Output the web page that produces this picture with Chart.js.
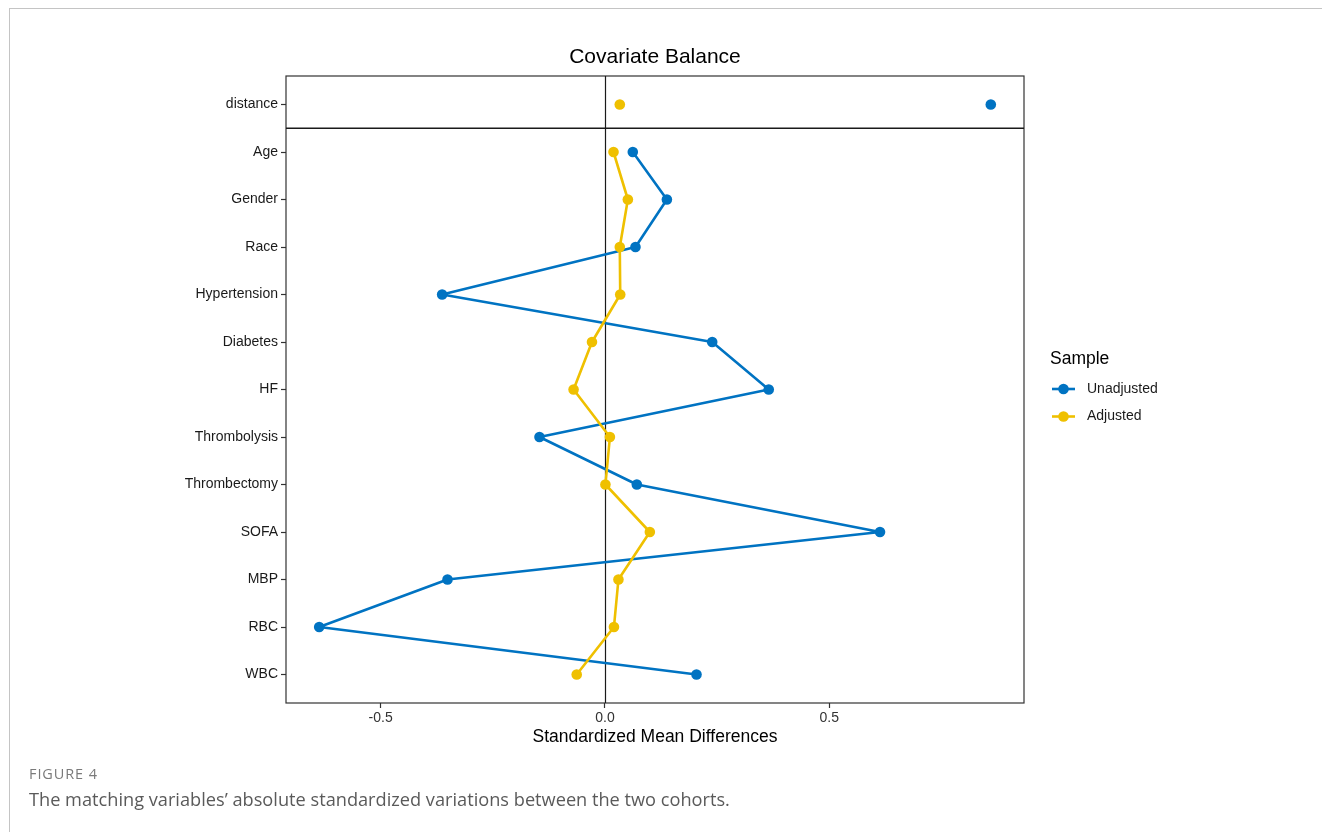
<!DOCTYPE html>
<html>
<head>
<meta charset="utf-8">
<title>Covariate Balance</title>
<script src="https://cdn.jsdelivr.net/npm/chart.js@4.4.1/dist/chart.umd.min.js"></script>
<style>
  html, body { margin: 0; padding: 0; background: #ffffff; width: 1322px; height: 832px; overflow: hidden; }
  #frame { position: absolute; left: 9px; top: 8px; width: 1400px; height: 900px; border: 1px solid #c4c4c4; box-sizing: border-box; }
  #wrap { position: absolute; left: 0; top: 0; width: 1322px; height: 832px; }
  .fig-label { position: absolute; left: 29px; top: 764px; font-family: "Open Sans", sans-serif; font-size: 14.5px; color: #7a7a7a; letter-spacing: 0.9px; }
  .fig-caption { position: absolute; left: 29px; top: 787px; font-family: "Open Sans", sans-serif; font-size: 18.2px; color: #5a5a5a; }
</style>
</head>
<body>
<div id="frame"></div>
<div id="wrap"><canvas id="chart" width="1322" height="832"></canvas></div>
<div class="fig-label">FIGURE 4</div>
<div class="fig-caption">The matching variables’ absolute standardized variations between the two cohorts.</div>
<script>
// Covariates, top to bottom
const covariates = ['distance', 'Age', 'Gender', 'Race', 'Hypertension', 'Diabetes', 'HF',
  'Thrombolysis', 'Thrombectomy', 'SOFA', 'MBP', 'RBC', 'WBC'];

// Standardized mean differences per covariate
const unadjusted = [0.860, 0.062, 0.138, 0.068, -0.363, 0.239, 0.365, -0.146, 0.071, 0.613, -0.351, -0.637, 0.204];
const adjusted   = [0.033, 0.019, 0.051, 0.033, 0.034, -0.029, -0.070, 0.011, 0.001, 0.100, 0.030, 0.020, -0.063];

// X axis tick values
const xTicks = [-0.5, 0.0, 0.5];

const seriesNames = ['Unadjusted', 'Adjusted'];
const seriesColors = ['#0073C2', '#EFC000'];

const FONT = '"Liberation Sans", Arial, sans-serif';

// distance is plotted in its own panel row, the rest are joined by lines
function points(values, from, to) {
  const out = [];
  for (let i = from; i < to; i++) out.push({ x: values[i], y: i });
  return out;
}

function series(label, values, color) {
  const style = {
    borderColor: color, backgroundColor: color, pointBackgroundColor: color,
    pointBorderColor: color, borderWidth: 2.6, pointRadius: 5.3, pointHoverRadius: 5.3,
    pointBorderWidth: 0, borderJoinStyle: 'round', borderCapStyle: 'round'
  };
  return [
    Object.assign({ label: label, data: points(values, 1, values.length), showLine: true }, style),
    Object.assign({ label: label + ' (distance)', data: points(values, 0, 1), showLine: false }, style)
  ];
}

// Frame, zero reference line and the separator under the distance row
const panelLines = {
  id: 'panelLines',
  beforeDatasetsDraw(chart) {
    const { ctx, chartArea: a, scales: { x, y } } = chart;
    ctx.save();
    ctx.strokeStyle = '#333333';
    ctx.lineWidth = 1.2;
    ctx.strokeRect(a.left, a.top, a.right - a.left, a.bottom - a.top);
    ctx.strokeStyle = '#1a1a1a';
    const x0 = Math.round(x.getPixelForValue(0)) + 0.5;
    ctx.beginPath(); ctx.moveTo(x0, a.top); ctx.lineTo(x0, a.bottom); ctx.stroke();
    const ySep = y.getPixelForValue(0.5);
    ctx.lineWidth = 1.6;
    ctx.beginPath(); ctx.moveTo(a.left, ySep); ctx.lineTo(a.right, ySep); ctx.stroke();
    ctx.restore();
  }
};

// Legend to the right of the panel
const sideLegend = {
  id: 'sideLegend',
  afterDraw(chart) {
    const { ctx, chartArea: a } = chart;
    const left = a.right + 26;
    ctx.save();
    ctx.fillStyle = '#000000';
    ctx.textBaseline = 'middle';
    ctx.textAlign = 'left';
    ctx.font = '17.5px ' + FONT;
    ctx.fillText('Sample', left, 359);
    ctx.font = '14px ' + FONT;
    seriesNames.forEach((name, i) => {
      const cy = 389 + i * 27.5;
      ctx.strokeStyle = seriesColors[i];
      ctx.fillStyle = seriesColors[i];
      ctx.lineWidth = 2.6;
      ctx.beginPath(); ctx.moveTo(left + 2, cy); ctx.lineTo(left + 25, cy); ctx.stroke();
      ctx.beginPath(); ctx.arc(left + 13.5, cy, 5.3, 0, Math.PI * 2); ctx.fill();
      ctx.fillStyle = '#1a1a1a';
      ctx.fillText(name, left + 37, cy);
    });
    ctx.restore();
  }
};

new Chart(document.getElementById('chart'), {
  type: 'scatter',
  data: {
    datasets: [
      ...series(seriesNames[1], adjusted, seriesColors[1]),
      ...series(seriesNames[0], unadjusted, seriesColors[0])
    ]
  },
  options: {
    responsive: false,
    animation: false,
    events: [],
    layout: { padding: { left: 0, right: 298, top: 0, bottom: 69 } },
    plugins: {
      legend: { display: false },
      tooltip: { enabled: false },
      title: {
        display: true,
        text: 'Covariate Balance',
        fullSize: false,
        color: '#000000',
        font: { family: FONT, size: 21, weight: 'normal', lineHeight: 1.2 },
        padding: { top: 44.8, bottom: 6 }
      }
    },
    scales: {
      x: {
        type: 'linear',
        min: -0.711,
        max: 0.934,
        afterBuildTicks(scale) { scale.ticks = xTicks.map(v => ({ value: v })); },
        afterFit(scale) { scale.height = 60; },
        border: { display: false },
        grid: { display: true, drawOnChartArea: false, drawTicks: true, tickLength: 5, tickColor: '#333333', tickWidth: 1.2 },
        ticks: {
          color: '#333333', padding: 2, maxRotation: 0,
          font: { family: FONT, size: 14 },
          callback: v => v.toFixed(1)
        },
        title: {
          display: true, text: 'Standardized Mean Differences', color: '#000000',
          font: { family: FONT, size: 17.5, lineHeight: 1.2 },
          padding: { top: 0, bottom: 15.5 }
        }
      },
      y: {
        type: 'linear',
        reverse: true,
        min: -0.6,
        max: 12.6,
        afterBuildTicks(scale) { scale.ticks = covariates.map((c, i) => ({ value: i })); },
        afterFit(scale) { scale.width = 286; },
        border: { display: false },
        grid: { display: true, drawOnChartArea: false, drawTicks: true, tickLength: 5, tickColor: '#333333', tickWidth: 1.2 },
        ticks: {
          color: '#1a1a1a', padding: 3, autoSkip: false,
          font: { family: FONT, size: 14 },
          callback: v => covariates[v]
        }
      }
    }
  },
  plugins: [panelLines, sideLegend]
});
</script>
</body>
</html>
